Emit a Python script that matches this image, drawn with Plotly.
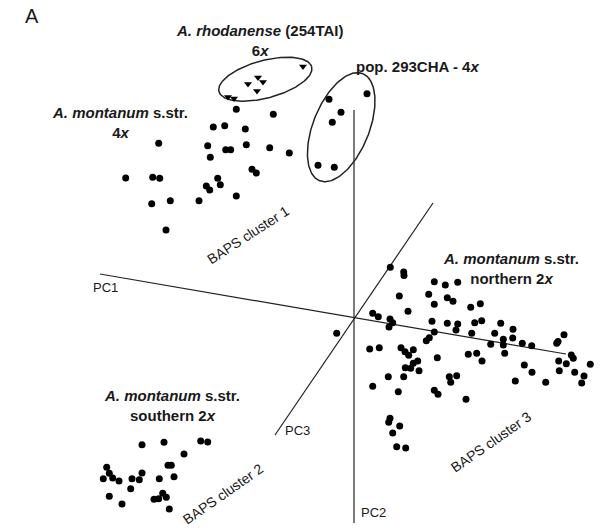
import numpy as np
import plotly.graph_objects as go

# projected PCA scores (screen units, y grows downward)
rhod_x = [303, 248, 258, 263, 257, 228, 234]
rhod_y = [66.5, 84, 77.5, 82, 91, 97, 98.5]

tetra_x = [236.3, 273.3, 213.3, 224.7, 245.3, 158.7, 207.7, 225.7, 230.7, 246.3, 269.7, 289.3,
           210.3, 125.7, 152.7, 159.7, 252, 256.3, 217.7, 206.3, 209.7, 220.3, 236.3, 151.7,
           170.3, 199, 166]
tetra_y = [109.3, 114.3, 127, 125.7, 129, 143.3, 145.7, 149.7, 149.7, 144.7, 147.7, 153,
           157.3, 178, 177.3, 178.3, 169.3, 173, 178.3, 186, 190, 184.7, 196, 203.7,
           200.7, 200.7, 230]

pop293_x = [329, 367, 341, 332.3, 318, 334.3]
pop293_y = [99.3, 93.7, 112.3, 122.3, 165.3, 167.3]

north_x = [390.3, 403.7, 404, 434.3, 445.3, 457.7, 399.3, 428.7, 447.3, 453, 434.3, 470.7,
           480.3, 408, 372.7, 378.3, 390, 392.7, 389, 432, 447.3, 457.7, 456, 474.7,
           481.7, 471.7, 500.7, 513, 494.7, 434.3, 429.3, 426.3, 503.3, 512.7, 490.7, 503.3,
           522.3, 531.7, 556.7, 558, 564, 369.7, 379.3, 401, 405, 413.3, 408.7, 417.7,
           413.3, 405.3, 410.7, 419, 437.3, 468.3, 476.7, 482, 504.7, 524.3, 532, 558.7,
           566.3, 571.3, 573.3, 559.3, 574.7, 590.3, 584, 581.7, 545.7, 515.3, 388.3, 403.7,
           372.7, 398.3, 449.3, 456.7, 450.7, 434.3, 438, 466, 390, 388.7, 399.7, 392.7,
           396.7, 405.7, 336.7]
north_y = [267.3, 272, 275.5, 281.7, 285, 282.3, 296, 294.3, 297.7, 301.3, 304.3, 307.3,
           303.7, 311.3, 313.3, 316.7, 319, 322.7, 327, 321.3, 323.3, 324, 330, 322.7,
           320.7, 333.3, 323.3, 329.3, 333.3, 332, 337.7, 340.7, 339.3, 338, 344.3, 345,
           343.3, 345.7, 343.3, 341.5, 334.7, 349, 347.7, 347.7, 351.7, 349.7, 355.3, 361,
           363.3, 367.7, 368.3, 370.7, 357.7, 354.3, 353.3, 361, 353.3, 365, 372.3, 361,
           363.7, 355, 358.3, 370.7, 372.3, 364.3, 376, 383, 382.3, 381, 376.7, 376.7,
           386.3, 391.7, 376.7, 375.7, 382.3, 390.3, 394.3, 399.3, 418.3, 422.3, 426, 433,
           446.7, 448, 333.3]

south_x = [142, 164, 200.7, 207.7, 184, 168, 171.3, 106.7, 109.3, 103.3, 112.7, 119,
           132, 142, 139.3, 159.3, 174, 130.7, 109.3, 122, 154, 158.7, 162.7, 166.3, 169.3]
south_y = [444.7, 442.3, 441, 442, 454, 465.3, 465.3, 467.3, 473.3, 478.7, 478, 481,
           478.7, 473, 479.7, 478.7, 476.7, 488.7, 496.3, 504, 499.3, 498.7, 493.3, 497.3, 509]

# PC axes (end points in the same projected space)
pc1 = ([100, 354, 566], [274, 317.7, 354])
pc2 = ([354, 354], [110, 523])
pc3 = ([433, 275], [203, 435])

# ellipses: centre x, centre y, semi-major, semi-minor, tilt (deg)
ellipses = [(265.3, 79.2, 48, 18.8, -15), (341.2, 127.2, 57.7, 28, -68)]

FONT = "Liberation Sans"
INK = "#1a1a1a"
PAGE_PAD = 8  # body margin of the html page

fig = go.Figure()

for ex, ey in [pc1, pc2, pc3]:
    fig.add_trace(go.Scatter(x=ex, y=ey, mode="lines", line=dict(color="#222", width=1.2),
                             hoverinfo="skip", showlegend=False))

t = np.linspace(0, 2 * np.pi, 200)
for cx, cy, a, b, ang in ellipses:
    phi = np.radians(ang)
    xs = cx + a * np.cos(t) * np.cos(phi) - b * np.sin(t) * np.sin(phi)
    ys = cy + a * np.cos(t) * np.sin(phi) + b * np.sin(t) * np.cos(phi)
    fig.add_trace(go.Scatter(x=xs, y=ys, mode="lines", line=dict(color="#222", width=1.5),
                             hoverinfo="skip", showlegend=False))

dot = dict(symbol="circle", size=7, color="black")
for gx, gy in [(tetra_x, tetra_y), (pop293_x, pop293_y), (north_x, north_y), (south_x, south_y)]:
    fig.add_trace(go.Scatter(x=gx, y=gy, mode="markers", marker=dot, showlegend=False))

fig.add_trace(go.Scatter(x=rhod_x, y=rhod_y, mode="markers",
                         marker=dict(symbol="triangle-down", size=7, color="black"),
                         showlegend=False))

def label(x, y, text, size=15, angle=0, bold=True):
    fig.add_annotation(x=x, y=y, xref="x", yref="y", text=f"<b>{text}</b>" if bold else text,
                       showarrow=False, textangle=angle, align="center",
                       font=dict(family=FONT, size=size, color=INK))

label(32, 16, "A", size=20, bold=False)
label(259, 40, "<i>A. rhodanense</i> (254TAI)<br>6<i>x</i>")
label(417, 66, "pop. 293CHA - 4<i>x</i>")
label(120, 122, "<i>A. montanum</i> s.str.<br>4<i>x</i>")
label(511, 268, "<i>A. montanum</i> s.str.<br>northern 2<i>x</i>")
label(172, 405, "<i>A. montanum</i> s.str.<br>southern 2<i>x</i>")

label(248, 235, "BAPS cluster 1", size=14, angle=-33, bold=False)
label(223, 494, "BAPS cluster 2", size=14, angle=-35, bold=False)
label(491, 442, "BAPS cluster 3", size=14, angle=-35, bold=False)

label(105, 287, "PC1", size=13, bold=False)
label(297, 430, "PC3", size=13, bold=False)
label(373, 512, "PC2", size=13, bold=False)

# shift the axis window so that the page's body margin is compensated
fig.update_xaxes(range=[PAGE_PAD, 603 + PAGE_PAD], visible=False)
fig.update_yaxes(range=[530 + PAGE_PAD, PAGE_PAD], visible=False)
fig.update_layout(width=603, height=530, margin=dict(l=0, r=0, t=0, b=0),
                  plot_bgcolor="white", paper_bgcolor="white")

fig.write_html("out.html")
